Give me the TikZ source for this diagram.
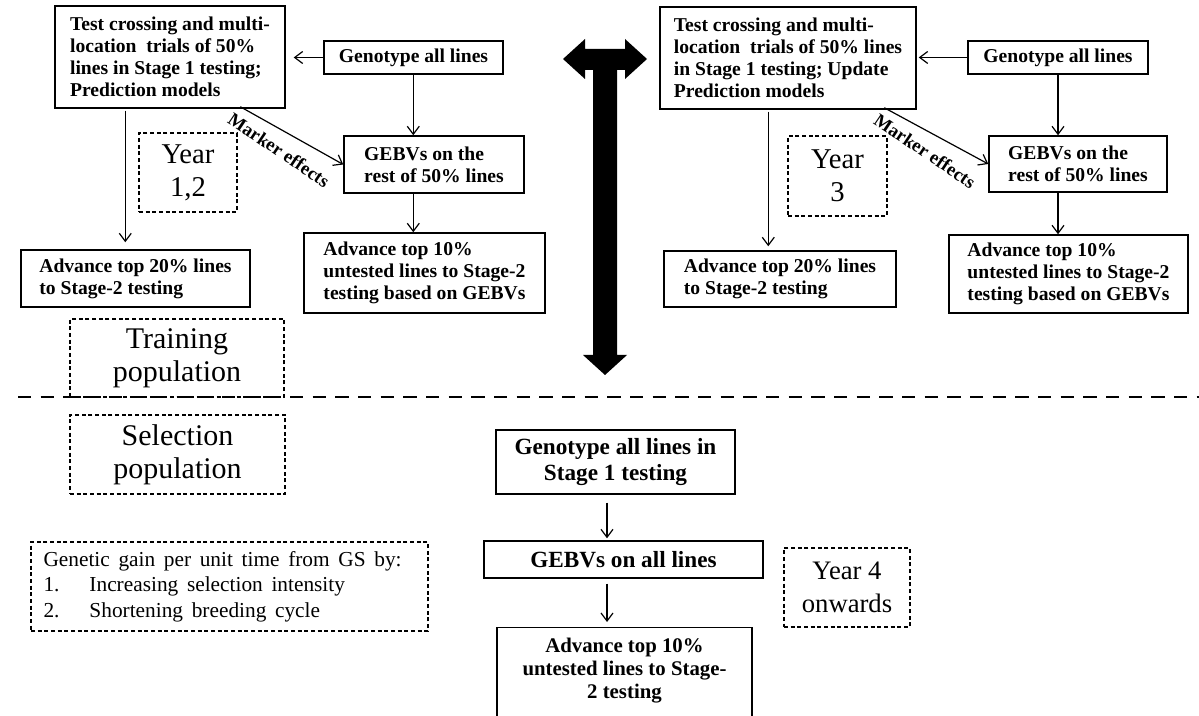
\documentclass[tikz,border=0pt]{standalone}
\usepackage{fontspec}
\setmainfont{Liberation Serif}
\usetikzlibrary{arrows.meta,calc}
\tikzset{
  sz/.style 2 args={minimum width=#1*0.75pt, minimum height=#2*0.75pt},
  box/.style={draw, line width=1.1pt, inner sep=0pt, align=left,
    font=\bfseries\fontsize{14.7}{16.5}\selectfont},
  cbox/.style={box, align=center, font=\bfseries\fontsize{17.4}{20}\selectfont},
  dbox/.style={draw, line width=1.1pt, dash pattern=on 3pt off 2pt, inner sep=0pt,
    align=center, font=\fontsize{21.5}{25}\selectfont},
  arr/.style={-{Straight Barb[length=6pt,width=9pt]}, line width=0.9pt},
  mk/.style={font=\bfseries\fontsize{14}{16}\selectfont, inner sep=0pt},
  bigdash/.style={line width=2.2pt, dash pattern=on 10pt off 7pt},
}
\begin{document}
\begin{tikzpicture}[x=0.75pt,y=-0.75pt]
\useasboundingbox (0,0) rectangle (1199,716);
\clip (0,0) rectangle (1199,716);

% ---------- left upper (Year 1,2) ----------
\node[box, sz={230}{102}] (boxL) at (170,57) {Test crossing and multi-\\location\ \ trials of 50\%\\lines in Stage 1 testing;\\Prediction models};
\node[box, sz={179}{33}] (genL) at (413.5,57.5) {Genotype all lines};
\node[box, sz={180}{57}] (gebL) at (434,164.5) {GEBVs on the\\rest of 50\% lines};
\node[box, sz={241}{80}] (advtL) at (424.5,273) {Advance top 10\%\\untested lines to Stage-2\\testing based on GEBVs};
\node[box, sz={229}{57}] (advwL) at (135.5,278.5) {Advance top 20\% lines\\to Stage-2 testing};
\node[dbox, sz={98}{79}] (yL) at (188,172.5) {Year\\1,2};

\draw[arr, shorten >=6pt] (genL.west) -- (genL.west -| boxL.east);
\draw[arr] ($(genL.south west)+(90,0)$) coordinate (gLx) -- (gLx |- gebL.north);
\draw[arr] (gLx |- gebL.south) -- (gLx |- advtL.north);
\draw[arr] ($(boxL.south west)+(71,2)$) coordinate (bLx) -- ($(bLx |- advwL.north)+(0,-7)$);
\draw[arr] ($(boxL.south west)+(186,-2)$) -- (gebL.west);
\node[mk, rotate=-34] (mkL) at (279,150) {Marker effects};

% ---------- right upper (Year 3) ----------
\node[box, sz={256}{102}] (boxR) at (788,58) {Test crossing and multi-\\location\ \ trials of 50\% lines\\in Stage 1 testing; Update\\Prediction models};
\node[box, sz={180}{33}] (genR) at (1058,57.5) {Genotype all lines};
\node[box, sz={178}{56}] (gebR) at (1078,164) {GEBVs on the\\rest of 50\% lines};
\node[box, sz={239}{78}] (advtR) at (1068.5,274) {Advance top 10\%\\untested lines to Stage-2\\testing based on GEBVs};
\node[box, sz={232}{56}] (advwR) at (780,279) {Advance top 20\% lines\\to Stage-2 testing};
\node[dbox, sz={99}{80}] (yR) at (837.5,176) {Year\\3};

\draw[arr, shorten >=1.5pt] (genR.west) -- (genR.west -| boxR.east);
\draw[arr] (genR.south) -- (genR.south |- gebR.north);
\draw[arr] (genR.south |- gebR.south) -- (genR.south |- advtR.north);
\draw[arr] ($(boxR.south west)+(109,2)$) coordinate (bRx) -- ($(bRx |- advwR.north)+(0,-4)$);
\draw[arr] ($(boxR.south west)+(225,-2)$) -- (gebR.west);
\node[mk, rotate=-34] (mkR) at (925,151) {Marker effects};

% ---------- big black arrow ----------
\fill[black] (563,59) -- (585,39) -- (585,49) -- (625,49) -- (625,39) -- (647,59)
  -- (625,79) -- (625,70) -- (617,70) -- (617,355) -- (627,355) -- (605,375)
  -- (583,355) -- (593,355) -- (593,70) -- (585,70) -- (585,79) -- cycle;

% ---------- divider ----------
\coordinate (dl) at (18,397);
\coordinate (dr) at (1199,397);
\draw[bigdash] (dl) -- (dr);

% ---------- left labels ----------
\node[dbox, sz={214}{78}, font=\fontsize{22.5}{25}\selectfont] (train) at (177,358) {Training\\population};
\node[dbox, sz={215}{79}, font=\fontsize{22.5}{25}\selectfont] (sel) at (177.5,454.5) {Selection\\population};
\node[dbox, sz={397}{89}, align=left, text width=279pt,
  font=\fontsize{16}{19}\selectfont] (gain) at (229.5,586.5)
  {\spaceskip=6.5pt plus 1pt minus 1pt\relax
   Genetic gain per unit time from GS by:\\
   \makebox[34.5pt][l]{1.}Increasing selection intensity\\
   \makebox[34.5pt][l]{2.}Shortening breeding cycle};

% ---------- bottom (Year 4 onwards) ----------
\node[cbox, sz={239}{64}] (genB) at (615.5,462) {Genotype all lines in\\Stage 1 testing};
\node[cbox, sz={279}{37}] (gebB) at (623.5,559.5) {GEBVs on all lines};
\node[cbox, anchor=north, minimum width=191.25pt, inner ysep=8pt, text depth=60pt,
  font=\bfseries\fontsize{15.6}{17}\selectfont] (advB) at (624.5,627) {Advance top 10\%\\untested lines to Stage-\\2 testing};
\node[dbox, sz={126}{79}, font=\fontsize{20}{25}\selectfont] (yB) at (847,587.5) {Year 4\\onwards};

\draw[arr] ($(genB.south)+(-8.5,8)$) coordinate (gBx) -- ($(gBx |- gebB.north)+(0,-2)$);
\draw[arr] ($(gBx |- gebB.south)+(0,5)$) -- ($(gBx |- advB.north)+(0,-5)$);
\end{tikzpicture}
\end{document}
